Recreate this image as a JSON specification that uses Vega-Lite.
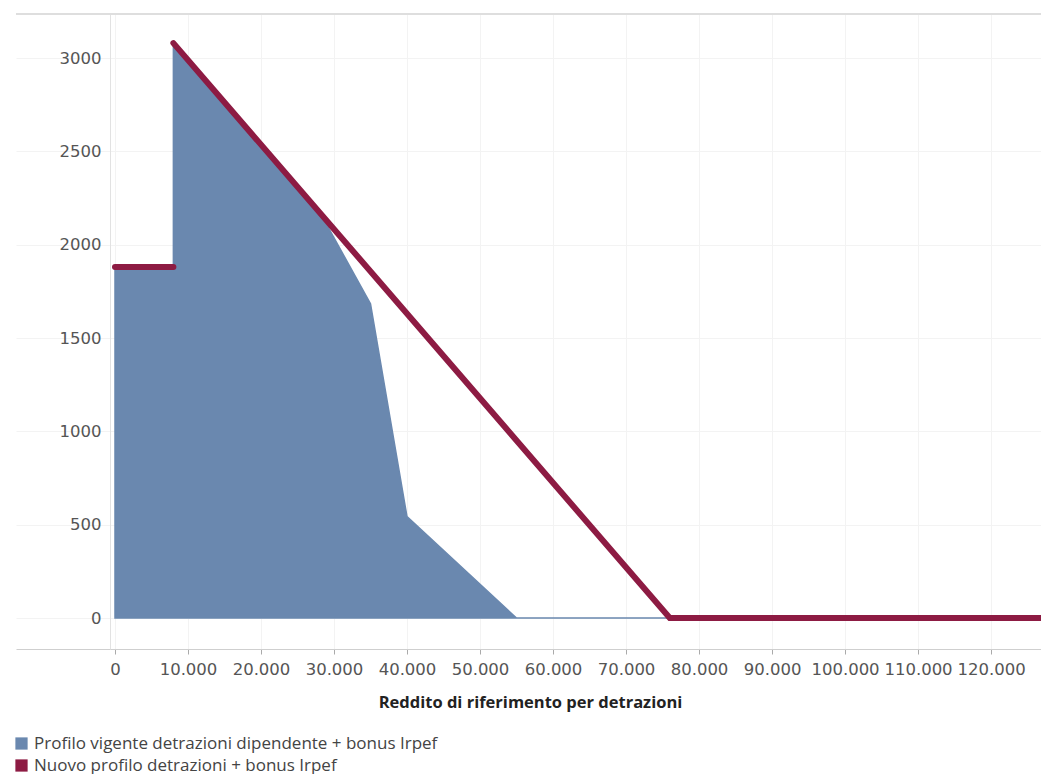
{
  "$schema": "https://vega.github.io/schema/vega-lite/v6.json",
  "width": 1028,
  "height": 635,
  "padding": {"left": 13, "top": 13, "right": 0, "bottom": 0},
  "autosize": {"type": "pad"},
  "background": "white",
  "config": {
    "font": "Open Sans",
    "view": {"stroke": null}
  },
  "data": {
    "values": [
      {"x": 0, "y": 1880, "serie": "Profilo vigente detrazioni dipendente + bonus Irpef", "seg": "a"},
      {"x": 7999, "y": 1880, "serie": "Profilo vigente detrazioni dipendente + bonus Irpef", "seg": "a"},
      {"x": 8000, "y": 3080, "serie": "Profilo vigente detrazioni dipendente + bonus Irpef", "seg": "a"},
      {"x": 28000, "y": 2178, "serie": "Profilo vigente detrazioni dipendente + bonus Irpef", "seg": "a"},
      {"x": 35000, "y": 1684, "serie": "Profilo vigente detrazioni dipendente + bonus Irpef", "seg": "a"},
      {"x": 40000, "y": 543, "serie": "Profilo vigente detrazioni dipendente + bonus Irpef", "seg": "a"},
      {"x": 55000, "y": 0, "serie": "Profilo vigente detrazioni dipendente + bonus Irpef", "seg": "a"},
      {"x": 76000, "y": 0, "serie": "Profilo vigente detrazioni dipendente + bonus Irpef", "seg": "a"},
      {"x": 0, "y": 1880, "serie": "Nuovo profilo detrazioni + bonus Irpef", "seg": "n1"},
      {"x": 8000, "y": 1880, "serie": "Nuovo profilo detrazioni + bonus Irpef", "seg": "n1"},
      {"x": 8000, "y": 3080, "serie": "Nuovo profilo detrazioni + bonus Irpef", "seg": "n2"},
      {"x": 76000, "y": 0, "serie": "Nuovo profilo detrazioni + bonus Irpef", "seg": "n2"},
      {"x": 127260, "y": 0, "serie": "Nuovo profilo detrazioni + bonus Irpef", "seg": "n2"}
    ]
  },
  "encoding": {
    "x": {
      "field": "x",
      "type": "quantitative",
      "scale": {"domain": [-13560, 127260], "nice": false, "zero": false},
      "axis": {
        "title": "Reddito di riferimento per detrazioni",
        "titleFont": "Open Sans",
        "titleFontSize": 16.5,
        "titleFontWeight": "bold",
        "titleColor": "#222",
        "titlePadding": 17,
        "values": [0, 10000, 20000, 30000, 40000, 50000, 60000, 70000, 80000, 90000, 100000, 110000, 120000],
        "labelExpr": "replace(format(datum.value, ','), ',', '.')",
        "labelFont": "DejaVu Sans",
        "labelFontSize": 16.5,
        "labelColor": "#555",
        "labelPadding": 7,
        "tickSize": 5,
        "tickColor": "#aaa",
        "domainColor": "#cfcfcf",
        "grid": true,
        "gridColor": "#f3f3f3"
      }
    },
    "y": {
      "field": "y",
      "type": "quantitative",
      "stack": null,
      "scale": {"domain": [-166, 3236], "nice": false, "zero": false},
      "axis": {
        "title": null,
        "offset": -94,
        "values": [0, 500, 1000, 1500, 2000, 2500, 3000],
        "format": "d",
        "labelFont": "DejaVu Sans",
        "labelFontSize": 16.5,
        "labelColor": "#555",
        "labelPadding": 9,
        "ticks": false,
        "domainColor": "#e2e2e2",
        "grid": true,
        "gridColor": "#f3f3f3"
      }
    },
    "color": {
      "field": "serie",
      "type": "nominal",
      "scale": {
        "domain": ["Profilo vigente detrazioni dipendente + bonus Irpef", "Nuovo profilo detrazioni + bonus Irpef"],
        "range": ["#6a88af", "#8d1b43"]
      },
      "legend": {
        "title": null,
        "orient": "none",
        "legendX": -3,
        "legendY": 721,
        "direction": "vertical",
        "symbolType": "square",
        "symbolSize": 150,
        "symbolOpacity": 1,
        "symbolStrokeWidth": 0,
        "labelFontSize": 17,
        "labelColor": "#444",
        "labelFont": "Open Sans",
        "rowPadding": 4,
        "labelLimit": 600
      }
    }
  },
  "layer": [
    {
      "mark": {"type": "rule", "stroke": "#dedede", "strokeWidth": 2},
      "encoding": {"y": {"datum": 3236}, "x": null, "color": null}
    },
    {
      "transform": [{"filter": "datum.seg == 'a'"}],
      "mark": {"type": "area", "opacity": 1, "stroke": "#6a88af", "strokeWidth": 1.5, "clip": true}
    },
    {
      "transform": [{"filter": "datum.seg != 'a'"}],
      "mark": {"type": "line", "strokeWidth": 6, "strokeCap": "round", "clip": true},
      "encoding": {"detail": {"field": "seg"}}
    }
  ]
}
